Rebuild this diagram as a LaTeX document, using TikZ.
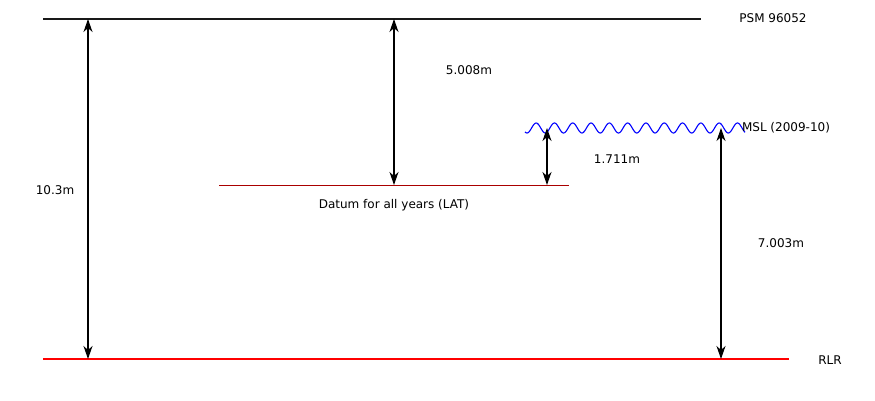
\documentclass[tikz,border=0pt]{standalone}
\usepackage{fontspec}
\setmainfont{DejaVu Sans}
\usetikzlibrary{arrows.meta}
\definecolor{datumred}{HTML}{AA0000}
\begin{document}
\begin{tikzpicture}[x=1pt,y=-1pt,
  lbl/.style={font=\fontsize{12}{14}\selectfont, inner sep=0pt},
  tip/.tip={Stealth[length=13pt,width=9pt,inset=4pt]},
  dim/.style={tip-tip, line width=1.1pt},
  level/.style={line width=2.2pt}]
\useasboundingbox (0,0) rectangle (875,400);
% level lines
\coordinate (psmL) at (43,19);  \coordinate (psmR) at (701,19);
\coordinate (rlrL) at (43,359); \coordinate (rlrR) at (789,359);
\coordinate (datL) at (219,185); \coordinate (datR) at (569,185);
\draw[level,black!90] (psmL) -- (psmR);
\draw[level,red] (rlrL) -- (rlrR);
\draw[datumred,line width=1pt] (datL) -- (datR);
% mean sea level wave
\draw[blue,line width=1.1pt,domain=525:745,samples=400,smooth]
  plot (\x,{128+5*cos(19.672*(\x-527))});
% labels
\node[lbl] (psm) at (773,18) {PSM 96052};
\node[lbl] (msl) at (786,128) {MSL (2009-10)};
\node[lbl] (rlr) at (830,360) {RLR};
\node[lbl] (datum) at (394,205) {Datum for all years (LAT)};
% dimension arrows
\coordinate (a1t) at (88,19);  \coordinate (a1b) at (88,359);
\coordinate (a2t) at (394,19); \coordinate (a2b) at (394,185);
\coordinate (a3t) at (547,128); \coordinate (a3b) at (547,185);
\coordinate (a4t) at (721,128); \coordinate (a4b) at (721,359);
\draw[dim] (a1t) -- (a1b);
\draw[dim] (a2t) -- (a2b);
\draw[dim] (a3t) -- (a3b);
\draw[dim] (a4t) -- (a4b);
\node[lbl] (d1) at (55,190) {10.3m};
\node[lbl] (d2) at (469,70) {5.008m};
\node[lbl] (d3) at (617,159) {1.711m};
\node[lbl] (d4) at (781,243) {7.003m};
\end{tikzpicture}
\end{document}
